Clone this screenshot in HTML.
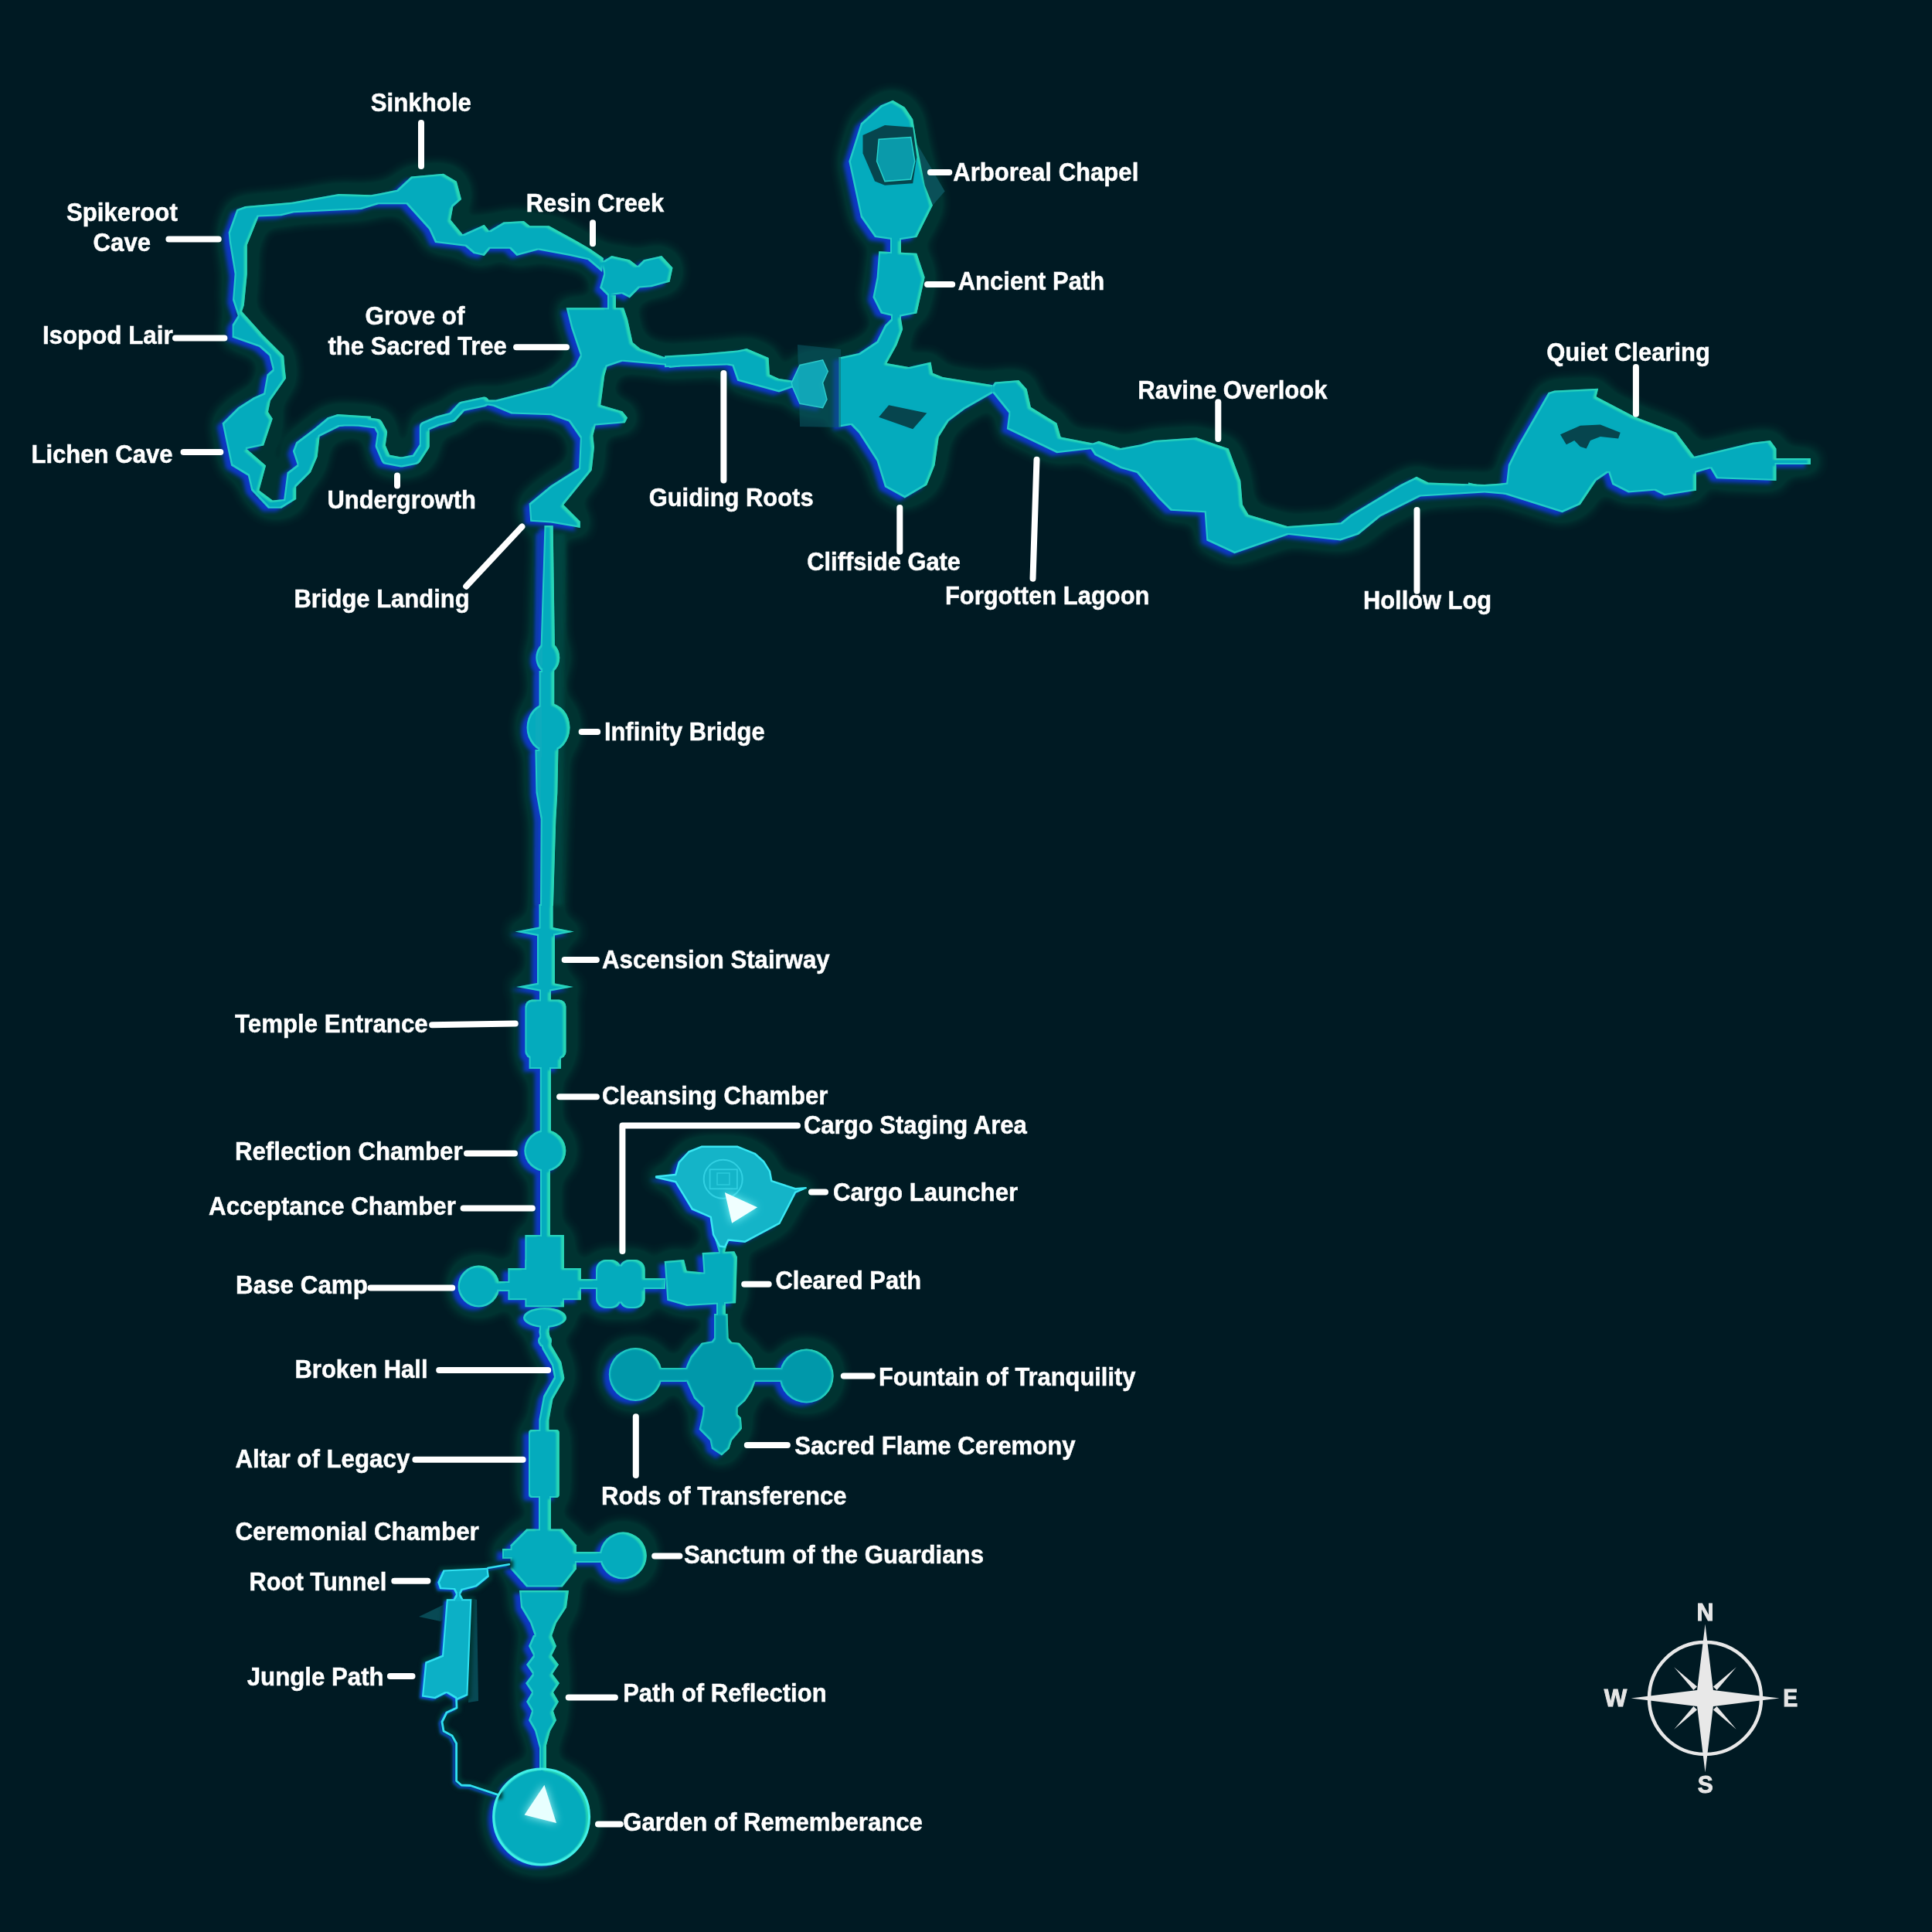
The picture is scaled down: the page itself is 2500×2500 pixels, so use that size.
<!DOCTYPE html>
<html><head><meta charset="utf-8"><style>
html,body{margin:0;padding:0;background:#001a23;width:2500px;height:2500px;overflow:hidden}
svg{display:block}
text{font-family:"Liberation Sans",sans-serif;font-weight:bold;font-size:33.6px;fill:#fff;stroke:#fff;stroke-width:0.5}
</style></head><body>
<svg width="2500" height="2500" viewBox="0 0 2500 2500" xmlns="http://www.w3.org/2000/svg">
<defs>
<filter id="cave" x="0" y="0" width="2500" height="2500" filterUnits="userSpaceOnUse" color-interpolation-filters="sRGB">
  <feMorphology in="SourceAlpha" operator="dilate" radius="4" result="dil0"/>
  <feGaussianBlur in="dil0" stdDeviation="11" result="blr"/>
  <feComponentTransfer in="blr" result="dilb"><feFuncA type="linear" slope="6" intercept="-0.05"/></feComponentTransfer>
  <feFlood flood-color="#003331" result="hc"/>
  <feComposite in="hc" in2="dilb" operator="in" result="halo"/>
  <feOffset in="SourceAlpha" dx="-7" dy="4" result="off"/>
  <feGaussianBlur in="off" stdDeviation="2.8" result="offb"/>
  <feFlood flood-color="#0d38c4" result="bc"/>
  <feComposite in="bc" in2="offb" operator="in" result="blue"/>
  <feFlood flood-color="#22ccc8" result="ec"/>
  <feComposite in="ec" in2="SourceAlpha" operator="in" result="edge"/>
  <feMorphology in="SourceAlpha" operator="erode" radius="1.5" result="er"/>
  <feFlood flood-color="#04abbd" result="fc"/>
  <feComposite in="fc" in2="er" operator="in" result="fill"/>
  <feOffset in="SourceAlpha" dx="-4" dy="2" result="sh"/>
  <feComposite in="SourceAlpha" in2="sh" operator="out" result="band"/>
  <feGaussianBlur in="band" stdDeviation="1" result="bandb"/>
  <feFlood flood-color="#2ad8b4" result="gc"/>
  <feComposite in="gc" in2="bandb" operator="in" result="green"/>
  <feComposite in="green" in2="SourceAlpha" operator="in" result="green2"/>
  <feMerge><feMergeNode in="halo"/><feMergeNode in="blue"/><feMergeNode in="edge"/><feMergeNode in="fill"/><feMergeNode in="green2"/></feMerge>
</filter>
<filter id="lite" x="0" y="0" width="2500" height="2500" filterUnits="userSpaceOnUse" color-interpolation-filters="sRGB">
  <feMorphology in="SourceAlpha" operator="dilate" radius="4" result="dil"/>
  <feGaussianBlur in="dil" stdDeviation="2" result="dilb"/>
  <feFlood flood-color="#003533" result="hc"/>
  <feComposite in="hc" in2="dilb" operator="in" result="halo"/>
  <feOffset in="SourceAlpha" dx="-3" dy="2" result="off"/>
  <feGaussianBlur in="off" stdDeviation="1.5" result="offb"/>
  <feFlood flood-color="#0d48d0" result="bc"/>
  <feComposite in="bc" in2="offb" operator="in" result="blue"/>
  <feFlood flood-color="#30e0f0" result="ec"/>
  <feComposite in="ec" in2="SourceAlpha" operator="in" result="edge"/>
  <feMorphology in="SourceAlpha" operator="erode" radius="1.5" result="er"/>
  <feFlood flood-color="#0cb0c6" result="fc"/>
  <feComposite in="fc" in2="er" operator="in" result="fill"/>
  <feMerge><feMergeNode in="halo"/><feMergeNode in="blue"/><feMergeNode in="edge"/><feMergeNode in="fill"/></feMerge>
</filter>
<filter id="inner2" x="0" y="0" width="2500" height="2500" filterUnits="userSpaceOnUse" color-interpolation-filters="sRGB">
  <feMorphology in="SourceAlpha" operator="erode" radius="2" result="er"/>
  <feGaussianBlur in="er" stdDeviation="0.8" result="erb"/>
  <feFlood flood-color="#0098aa"/>
  <feComposite in2="erb" operator="in"/>
</filter>
<filter id="soft" x="-20%" y="-5%" width="140%" height="110%"><feGaussianBlur stdDeviation="2.5"/></filter>
<filter id="glow" x="-50%" y="-50%" width="200%" height="200%"><feGaussianBlur stdDeviation="6"/></filter>
</defs>
<rect width="2500" height="2500" fill="#001a23"/>
<g filter="url(#cave)">
<polygon points="306.3,271.1 317.1,267.1 377.7,261.7 438.2,251.0 480.0,252.3 490.0,250.4 513.3,245.7 531.9,228.6 573.9,224.8 590.9,234.8 597.1,258.1 586.3,267.5 583.2,284.5 598.7,303.2 626.6,290.7 632.9,298.5 651.5,287.6 677.9,286.1 685.6,292.3 710.5,292.3 744.7,310.9 763.3,321.8 781.0,334.0 779.0,352.0 760.5,336.2 737.0,331.0 696.5,323.4 668.6,331.1 659.3,321.8 634.4,321.8 626.6,331.1 612.7,328.0 601.8,318.7 563.0,314.0 555.2,297.0 525.7,264.3 490.0,264.3 467.8,271.1 380.4,275.2 364.2,279.2 334.6,280.6 319.8,316.9 319.8,354.6 315.8,395.0 313.1,403.0 337.3,430.0 338.3,431.6 360.0,453.3 367.2,460.6 368.7,478.0 370.1,489.6 349.9,518.6 347.0,533.0 352.8,541.7 341.2,576.5 319.4,580.9 344.1,602.6 335.4,634.5 352.8,647.5 367.2,646.1 371.6,611.3 384.6,601.2 378.8,583.8 383.2,572.2 406.4,554.8 423.8,540.3 436.8,535.9 480.0,538.8 480.0,546.1 439.7,551.9 413.6,564.9 410.7,591.0 402.0,611.3 383.2,630.1 383.2,646.1 364.3,657.7 347.0,657.7 325.2,634.5 320.9,615.7 299.1,602.6 287.5,547.5 307.8,527.2 328.1,514.2 341.2,508.4 345.5,484.5 352.8,478.0 348.4,460.6 335.4,449.0 300.6,436.7 300.6,420.0 307.7,408.4 301.0,388.2 303.6,354.6 296.9,314.2 295.6,300.8"/>
<polygon points="778.6,338.8 791.5,331.0 814.8,336.2 825.0,344.0 832.9,336.2 856.2,331.0 870.5,346.6 866.6,364.7 843.3,371.2 827.7,372.5 814.8,385.4 804.5,380.2 786.3,382.8 776.0,372.5 781.2,354.3"/>
<rect x="786.0" y="382.0" width="11.0" height="18.0" rx="0"/>
<polygon points="732.6,398.2 807.1,398.2 812.1,413.1 818.7,442.9 828.6,451.2 861.7,462.8 866.7,461.1 879.9,461.1 879.9,474.4 866.7,476.0 861.7,472.7 805.4,467.7 785.6,474.4 782.3,486.0 777.3,524.0 805.4,532.3 812.1,540.6 808.7,547.2 770.7,550.5 767.4,563.8 769.0,578.7 765.7,608.5 729.3,653.2 750.8,674.7 750.8,683.0 712.7,676.4 686.2,674.7 684.6,651.5 712.7,628.3 749.1,605.2 750.8,567.1 735.9,545.6 712.7,537.3 661.4,535.6 638.2,525.7 620.0,522.4 620.0,517.4 641.5,517.4 712.7,499.2 744.2,472.7 750.8,459.5 739.2,424.7"/>
<polyline points="626.3,520.0 597.7,526.0 585.3,539.7 566.6,544.7 549.3,552.1 549.3,577.0 538.1,594.3 519.4,598.1 499.6,594.3 492.1,577.0 494.6,559.6 488.4,548.4 464.8,545.3 448.6,544.7 430.0,545.9" fill="none" stroke="#000" stroke-width="13" stroke-linejoin="round" stroke-linecap="round"/>
<polygon points="860.0,460.4 907.1,457.7 954.2,453.6 966.3,451.0 994.6,463.1 995.9,484.6 1008.0,490.0 1027.0,492.7 1027.0,501.0 1008.0,507.5 954.2,492.7 947.5,473.8 940.8,472.5 860.0,475.2"/>
<polygon points="1024.2,495.4 1035.0,472.5 1064.6,465.8 1071.3,480.6 1064.6,495.4 1070.0,516.9 1064.6,527.7 1035.0,522.3 1025.5,500.8"/>
<polygon points="1088.0,462.1 1111.3,457.0 1134.6,441.4 1145.0,420.7 1155.3,410.4 1165.6,410.4 1168.2,425.9 1160.5,446.6 1147.5,469.9 1176.0,475.0 1204.5,468.6 1207.0,482.8 1220.0,488.0 1284.7,498.3 1284.7,508.7 1248.4,529.4 1227.7,545.0 1214.8,565.6 1209.6,601.9 1199.3,627.7 1170.8,644.6 1145.0,630.3 1134.6,596.7 1111.3,560.5 1101.0,550.1 1085.4,552.7 1085.4,462.1"/>
<polygon points="1113.9,159.5 1139.8,136.2 1155.3,129.8 1170.8,138.8 1181.2,154.3 1186.3,185.4 1200.0,240.0 1207.0,265.6 1186.3,307.0 1160.5,311.0 1132.0,307.0 1113.9,281.2 1098.3,208.7"/>
<rect x="1152.0" y="309.0" width="14.0" height="18.0" rx="0"/>
<polygon points="1137.2,325.2 1186.3,327.7 1196.7,358.8 1186.3,405.4 1160.5,410.6 1139.8,405.4 1129.4,384.7 1134.6,358.8"/>
<rect x="1153.0" y="408.0" width="13.0" height="16.0" rx="0"/>
<polygon points="1284.7,498.3 1287.3,494.5 1318.3,491.9 1328.7,503.5 1333.9,526.8 1367.5,547.5 1372.7,565.6 1414.0,573.4 1421.8,570.8 1450.0,580.0 1475.9,575.3 1494.0,570.0 1548.3,566.2 1574.2,575.3 1589.8,580.5 1605.3,621.9 1607.9,652.9 1615.6,665.9 1666.0,681.0 1734.7,676.2 1747.6,665.9 1812.3,627.0 1833.0,616.7 1848.5,624.5 1921.0,627.0 1950.0,625.0 1950.0,640.0 1921.0,637.4 1838.2,642.6 1786.4,668.4 1758.0,691.7 1734.7,699.5 1667.4,692.0 1597.5,716.3 1561.3,699.5 1558.7,663.3 1514.7,660.7 1499.2,645.2 1471.0,612.0 1450.0,606.0 1416.6,588.9 1411.5,581.2 1367.5,586.3 1302.8,555.3 1305.4,534.6 1284.7,508.7"/>
<polygon points="1900.0,624.5 1923.3,629.6 1949.2,624.5 1951.8,601.2 1964.7,575.3 2003.5,508.0 2011.3,505.4 2068.2,502.8 2065.6,513.2 2114.8,539.0 2169.2,559.7 2192.4,590.8 2267.5,572.7 2290.8,570.1 2298.5,580.5 2298.5,621.9 2221.0,619.3 2213.2,606.3 2195.0,611.5 2195.0,634.8 2153.6,641.3 2140.7,634.8 2107.0,637.4 2086.3,627.0 2081.2,611.5 2065.6,621.9 2044.9,652.9 2021.6,663.3 1923.3,632.2 1900.0,637.4"/>
<rect x="2298.0" y="593.0" width="45.0" height="8.0" rx="0"/>
<polygon points="704.5,680.0 715.7,680.0 718.0,838.0 699.5,838.0"/>
<ellipse cx="708.8" cy="851.0" rx="15.5" ry="20.0"/>
<rect x="697.6" y="868.0" width="19.7" height="46.0" rx="0"/>
<ellipse cx="709.5" cy="941.5" rx="28.0" ry="32.0"/>
<polygon points="692.4,970.0 722.5,970.0 722.0,994.0 721.4,1026.0 719.4,1060.0 716.0,1172.0 699.0,1172.0 699.7,1060.0 693.5,1026.0"/>
<rect x="697.5" y="1170.0" width="18.1" height="36.0" rx="0"/>
<polygon points="666.5,1205.6 700.0,1199.0 710.0,1199.0 742.8,1205.6 710.0,1212.0 700.0,1212.0"/>
<rect x="695.0" y="1209.0" width="23.0" height="68.0" rx="0"/>
<polygon points="668.0,1277.0 700.0,1271.0 710.0,1271.0 742.0,1277.0 710.0,1283.0 700.0,1283.0"/>
<rect x="698.0" y="1277.0" width="15.0" height="18.0" rx="0"/>
<rect x="679.4" y="1293.6" width="53.1" height="76.4" rx="9"/>
<rect x="684.6" y="1365.0" width="41.4" height="18.0" rx="0"/>
<rect x="698.8" y="1382.0" width="14.2" height="83.0" rx="0"/>
<circle cx="705.3" cy="1489.0" r="27.0"/>
<rect x="699.0" y="1512.0" width="13.0" height="88.0" rx="0"/>
<rect x="679.4" y="1598.0" width="50.5" height="44.0" rx="0"/>
<rect x="657.4" y="1641.0" width="94.5" height="41.2" rx="0"/>
<rect x="679.4" y="1630.0" width="50.5" height="61.3" rx="0"/>
<ellipse cx="705.0" cy="1705.0" rx="28.0" ry="13.0"/>
<rect x="646.0" y="1658.0" width="14.0" height="13.0" rx="0"/>
<circle cx="619.5" cy="1664.5" r="27.0"/>
<polyline points="705.0,1715.0 703.9,1723.3 707.5,1743.2 720.2,1764.9 723.8,1783.0 709.3,1808.4 703.9,1837.4 703.9,1852.0" fill="none" stroke="#000" stroke-width="13" stroke-linejoin="round" stroke-linecap="round"/>
<circle cx="705.0" cy="1735.0" r="9.0"/>
<rect x="684.0" y="1850.0" width="39.8" height="88.0" rx="4"/>
<rect x="697.0" y="1936.0" width="16.0" height="44.0" rx="0"/>
<polygon points="681.2,1978.5 727.7,1978.5 745.9,1999.2 745.9,2030.2 727.7,2053.5 681.2,2053.5 660.5,2030.2 660.5,1999.2"/>
<rect x="650.0" y="2004.0" width="11.0" height="13.0" rx="0"/>
<rect x="744.0" y="2008.0" width="33.0" height="14.0" rx="0"/>
<circle cx="806.3" cy="2013.1" r="30.5"/>
<polygon points="672.0,2058.0 736.0,2058.0 733.0,2080.0 720.0,2100.0 714.0,2117.0 692.0,2117.0 686.0,2100.0 674.0,2080.0"/>
<polygon points="690.0,2116.0 684.0,2130.0 690.0,2142.0 681.0,2154.0 689.0,2166.0 680.0,2178.0 688.0,2190.0 681.0,2202.0 688.0,2214.0 684.0,2226.0 692.0,2240.0 698.0,2262.0 706.0,2262.0 712.0,2240.0 720.0,2226.0 716.0,2214.0 723.0,2202.0 716.0,2190.0 724.0,2178.0 715.0,2166.0 723.0,2154.0 714.0,2142.0 720.0,2130.0 714.0,2116.0"/>
<rect x="698.0" y="2258.0" width="9.0" height="34.0" rx="0"/>
<circle cx="700.6" cy="2351.0" r="62.0"/>
<polygon points="849.1,1522.4 874.2,1520.1 878.7,1504.2 891.3,1490.5 908.3,1483.7 953.9,1483.7 976.7,1492.8 988.1,1503.0 996.0,1515.6 998.3,1528.1 1029.1,1538.3 1042.7,1537.2 1029.1,1542.9 1008.6,1582.8 964.1,1606.7 942.5,1604.4 938.0,1613.5 931.1,1612.4 923.1,1597.6 919.7,1574.8 895.8,1564.5 874.2,1529.2 849.1,1523.5"/>
<polygon points="925.0,1603.0 943.0,1603.0 938.0,1620.0 930.0,1620.0"/>
<polygon points="859.7,1632.0 885.1,1630.1 888.7,1644.6 910.4,1646.4 908.6,1621.1 950.3,1619.3 953.9,1626.5 952.1,1686.3 888.7,1689.9 863.3,1682.7"/>
<rect x="751.0" y="1655.0" width="21.0" height="13.0" rx="0"/>
<rect x="771.0" y="1630.0" width="33.0" height="63.0" rx="13"/>
<rect x="801.0" y="1630.0" width="33.7" height="63.0" rx="13"/>
<rect x="833.0" y="1654.0" width="28.0" height="14.0" rx="0"/>
<rect x="927.0" y="1685.0" width="12.0" height="18.0" rx="0"/>
<polygon points="924.1,1700.0 941.5,1700.0 942.6,1731.3 947.0,1736.7 956.7,1737.8 973.0,1756.3 977.4,1769.3 979.6,1777.0 977.4,1787.8 973.0,1799.8 964.3,1812.8 954.6,1821.5 954.6,1830.2 958.9,1834.6 960.0,1848.7 947.0,1863.9 943.7,1874.8 933.9,1883.5 920.9,1874.8 918.7,1863.9 904.6,1849.8 908.9,1831.3 910.0,1821.5 898.0,1809.6 888.3,1787.8 885.0,1777.0 889.3,1765.0 893.7,1755.2 907.8,1737.8 920.9,1735.6 924.1,1731.3"/>
<circle cx="822.3" cy="1778.5" r="34.5"/>
<rect x="855.0" y="1770.0" width="33.0" height="18.0" rx="0"/>
<circle cx="1043.6" cy="1780.5" r="35.0"/>
<rect x="977.0" y="1770.0" width="33.0" height="18.0" rx="0"/>
</g>
<g style="mix-blend-mode:lighten" filter="url(#soft)">
<polygon points="693,690 703,690 699,1172 692,1172" fill="#0c3cb0"/>
<polygon points="716,690 732,690 728,1172 716,1172" fill="#03453f"/>
</g>
<polygon points="608,2068 617,2070 619,2201 606,2203" fill="#0a5560" opacity="0.8"/>
<polygon points="542,2092 575,2076 580,2090 570,2098" fill="#0a5560" opacity="0.8"/>
<g filter="url(#lite)">
<polygon points="566.2,2047.5 573.5,2031.6 631.4,2028.7 632.9,2040.3 617.0,2053.3 599.6,2057.7 569.1,2056.2"/>
<polyline points="631.4,2029.0 659.0,2024.3" fill="none" stroke="#000" stroke-width="2.5" stroke-linejoin="round" stroke-linecap="round"/>
<polygon points="586.5,2056.0 599.6,2056.0 596.0,2063.0 599.6,2069.5 586.5,2069.5 590.0,2063.0"/>
<polygon points="577.8,2069.3 610.4,2069.3 605.4,2193.9 592.3,2199.7 577.8,2191.0 563.3,2198.3 545.9,2195.4 550.3,2150.4 572.0,2141.7"/>
<polyline points="590.6,2199.0 591.0,2210.0 578.0,2216.0 572.0,2228.0 574.0,2240.0 585.0,2246.0 590.6,2256.0 590.6,2304.5 597.0,2310.0 608.7,2310.5 644.9,2322.7" fill="none" stroke="#000" stroke-width="2.8" stroke-linejoin="round" stroke-linecap="round"/>
</g>
<g filter="url(#inner2)">
<polygon points="924.1,1700.0 941.5,1700.0 942.6,1731.3 947.0,1736.7 956.7,1737.8 973.0,1756.3 977.4,1769.3 979.6,1777.0 977.4,1787.8 973.0,1799.8 964.3,1812.8 954.6,1821.5 954.6,1830.2 958.9,1834.6 960.0,1848.7 947.0,1863.9 943.7,1874.8 933.9,1883.5 920.9,1874.8 918.7,1863.9 904.6,1849.8 908.9,1831.3 910.0,1821.5 898.0,1809.6 888.3,1787.8 885.0,1777.0 889.3,1765.0 893.7,1755.2 907.8,1737.8 920.9,1735.6 924.1,1731.3"/>
<circle cx="822.3" cy="1778.5" r="34.5"/>
<rect x="855.0" y="1770.0" width="33.0" height="18.0" rx="0"/>
<circle cx="1043.6" cy="1780.5" r="35.0"/>
<rect x="977.0" y="1770.0" width="33.0" height="18.0" rx="0"/>
</g>
<polygon points="1137.2,539.8 1150.1,524.2 1199.3,534.6 1181.2,555.3" fill="#06454e" opacity="1"/>
<polygon points="2019.0,562.3 2044.9,550.7 2070.8,549.4 2096.7,559.7 2094.1,567.5 2070.8,564.9 2057.9,570.1 2052.7,580.5 2044.9,577.9 2037.2,570.1 2026.8,575.3" fill="#06454e" opacity="1"/>
<polygon points="1116.5,175.0 1145.0,162.0 1181.2,164.7 1186.3,203.5 1181.2,237.2 1145.0,239.8 1132.0,234.6 1116.5,198.3" fill="#06454e" opacity="1"/>
<polygon points="1186.3,185.4 1222.6,247.5 1207.0,265.6 1196.7,239.8" fill="#0a5058" opacity="1"/>
<polygon points="1032.0,446.0 1088.0,452.0 1088.0,553.0 1035.0,552.0" fill="#0a5a66" opacity="0.55"/>
<polygon points="1024.2,495.4 1035,472.5 1064.6,465.8 1071.3,480.6 1064.6,495.4 1070,516.9 1064.6,527.7 1035,522.3 1025.5,500.8" fill="#12aabb" stroke="#30d0d0" stroke-width="1.5" opacity="0.9"/>
<polygon points="1137.2,180.2 1178.6,177.6 1183.7,208.7 1178.6,232.0 1145.0,234.6 1134.6,208.7" fill="#0a9aaa" stroke="#25d2cc" stroke-width="1.5"/>
<!-- glow triangles -->
<polygon points="849.1,1522.4 874.2,1520.1 878.7,1504.2 891.3,1490.5 908.3,1483.7 953.9,1483.7 976.7,1492.8 988.1,1503.0 996.0,1515.6 998.3,1528.1 1029.1,1538.3 1042.7,1537.2 1029.1,1542.9 1008.6,1582.8 964.1,1606.7 942.5,1604.4 938.0,1613.5 931.1,1612.4 923.1,1597.6 919.7,1574.8 895.8,1564.5 874.2,1529.2 849.1,1523.5" fill="#14b4c8" stroke="#3ae6f2" stroke-width="2.5" stroke-linejoin="round"/>
<circle cx="935.7" cy="1525.8" r="25" fill="none" stroke="#3ad8ea" stroke-width="2" opacity="0.8"/>
<rect x="918.6" y="1513.3" width="35.3" height="25" fill="none" stroke="#3ad8ea" stroke-width="1.8" opacity="0.7"/>
<rect x="928" y="1518" width="16" height="15" fill="none" stroke="#3ad8ea" stroke-width="1.5" opacity="0.6"/>
<polygon points="937.9,1542.9 980.1,1562.3 947.1,1582.8" fill="#8ff" filter="url(#glow)" opacity="0.9"/>
<polygon points="937.9,1542.9 980.1,1562.3 947.1,1582.8" fill="#f0ffff"/>
<circle cx="700.6" cy="2351" r="62" fill="none" stroke="#40f0e8" stroke-width="3"/>
<polygon points="678.6,2348.6 704.4,2309.7 720,2358.9" fill="#bff" filter="url(#glow)" opacity="0.9"/>
<polygon points="678.6,2348.6 704.4,2309.7 720,2358.9" fill="#e8ffff"/>
<g fill="none" stroke="#fff" stroke-width="8" stroke-linecap="round" stroke-linejoin="round">
<polyline points="545.0,159.0 545.0,215.0"/>
<polyline points="218.4,309.5 282.7,309.5"/>
<polyline points="767.0,288.2 767.0,315.3"/>
<polyline points="668.1,449.3 733.0,449.3"/>
<polyline points="227.0,437.4 290.4,437.4"/>
<polyline points="237.5,584.9 285.3,584.9"/>
<polyline points="514.0,615.4 514.0,628.4"/>
<polyline points="603.2,758.7 675.4,681.5"/>
<polyline points="936.4,483.0 936.4,621.5"/>
<polyline points="1203.9,222.9 1228.3,222.9"/>
<polyline points="1200.0,367.9 1232.2,367.9"/>
<polyline points="1164.3,657.0 1164.3,713.7"/>
<polyline points="1341.5,594.8 1336.5,748.7"/>
<polyline points="1576.3,520.3 1576.3,568.0"/>
<polyline points="1833.5,660.0 1833.5,764.8"/>
<polyline points="2116.9,475.0 2116.9,535.8"/>
<polyline points="752.6,947.0 773.2,947.0"/>
<polyline points="730.6,1241.9 771.9,1241.9"/>
<polyline points="559.1,1326.3 666.8,1324.5"/>
<polyline points="724.1,1419.2 771.9,1419.2"/>
<polyline points="805.4,1619.0 805.4,1456.4 1032.0,1456.4"/>
<polyline points="604.0,1492.6 666.0,1492.6"/>
<polyline points="1050.0,1542.4 1068.0,1542.4"/>
<polyline points="599.6,1563.4 688.8,1563.4"/>
<polyline points="479.5,1666.4 585.2,1666.4"/>
<polyline points="963.2,1661.7 994.7,1661.7"/>
<polyline points="568.2,1772.9 709.2,1772.9"/>
<polyline points="1091.8,1780.5 1128.7,1780.5"/>
<polyline points="966.8,1870.0 1018.9,1870.0"/>
<polyline points="537.4,1888.8 676.6,1888.8"/>
<polyline points="822.8,1833.2 822.8,1909.0"/>
<polyline points="847.2,2013.6 879.4,2013.6"/>
<polyline points="510.3,2045.7 553.4,2045.7"/>
<polyline points="504.9,2168.9 533.5,2168.9"/>
<polyline points="735.7,2196.4 795.9,2196.4"/>
<polyline points="774.0,2360.4 802.7,2360.4"/>
</g>
<g opacity="0.999">
<text x="479.7" y="144.0" textLength="130.3" lengthAdjust="spacingAndGlyphs">Sinkhole</text>
<text x="86.0" y="286.0" textLength="143.8" lengthAdjust="spacingAndGlyphs">Spikeroot</text>
<text x="120.6" y="325.0" textLength="74.5" lengthAdjust="spacingAndGlyphs">Cave</text>
<text x="680.7" y="274.3" textLength="178.5" lengthAdjust="spacingAndGlyphs">Resin Creek</text>
<text x="472.6" y="420.3" textLength="128.8" lengthAdjust="spacingAndGlyphs">Grove of</text>
<text x="424.5" y="459.1" textLength="231.3" lengthAdjust="spacingAndGlyphs">the Sacred Tree</text>
<text x="54.9" y="445.0" textLength="168.7" lengthAdjust="spacingAndGlyphs">Isopod Lair</text>
<text x="40.4" y="598.9" textLength="183.2" lengthAdjust="spacingAndGlyphs">Lichen Cave</text>
<text x="423.4" y="657.8" textLength="192.5" lengthAdjust="spacingAndGlyphs">Undergrowth</text>
<text x="380.5" y="786.0" textLength="227.1" lengthAdjust="spacingAndGlyphs">Bridge Landing</text>
<text x="839.7" y="655.0" textLength="212.9" lengthAdjust="spacingAndGlyphs">Guiding Roots</text>
<text x="1233.2" y="234.1" textLength="240.1" lengthAdjust="spacingAndGlyphs">Arboreal Chapel</text>
<text x="1239.7" y="374.8" textLength="189.6" lengthAdjust="spacingAndGlyphs">Ancient Path</text>
<text x="1044.3" y="737.7" textLength="198.7" lengthAdjust="spacingAndGlyphs">Cliffside Gate</text>
<text x="1222.9" y="781.7" textLength="264.6" lengthAdjust="spacingAndGlyphs">Forgotten Lagoon</text>
<text x="1472.3" y="515.8" textLength="245.3" lengthAdjust="spacingAndGlyphs">Ravine Overlook</text>
<text x="1764.0" y="788.1" textLength="166.1" lengthAdjust="spacingAndGlyphs">Hollow Log</text>
<text x="2001.2" y="466.6" textLength="211.7" lengthAdjust="spacingAndGlyphs">Quiet Clearing</text>
<text x="781.9" y="958.2" textLength="207.8" lengthAdjust="spacingAndGlyphs">Infinity Bridge</text>
<text x="779.1" y="1252.8" textLength="294.6" lengthAdjust="spacingAndGlyphs">Ascension Stairway</text>
<text x="304.0" y="1336.4" textLength="249.7" lengthAdjust="spacingAndGlyphs">Temple Entrance</text>
<text x="779.1" y="1428.8" textLength="292.4" lengthAdjust="spacingAndGlyphs">Cleansing Chamber</text>
<text x="1039.9" y="1467.1" textLength="288.9" lengthAdjust="spacingAndGlyphs">Cargo Staging Area</text>
<text x="304.0" y="1500.5" textLength="294.6" lengthAdjust="spacingAndGlyphs">Reflection Chamber</text>
<text x="1077.9" y="1554.1" textLength="239.3" lengthAdjust="spacingAndGlyphs">Cargo Launcher</text>
<text x="270.1" y="1571.7" textLength="319.7" lengthAdjust="spacingAndGlyphs">Acceptance Chamber</text>
<text x="305.1" y="1673.6" textLength="170.8" lengthAdjust="spacingAndGlyphs">Base Camp</text>
<text x="1003.6" y="1668.2" textLength="188.6" lengthAdjust="spacingAndGlyphs">Cleared Path</text>
<text x="381.5" y="1783.0" textLength="172.0" lengthAdjust="spacingAndGlyphs">Broken Hall</text>
<text x="1137.0" y="1793.2" textLength="332.4" lengthAdjust="spacingAndGlyphs">Fountain of Tranquility</text>
<text x="1028.3" y="1882.0" textLength="363.2" lengthAdjust="spacingAndGlyphs">Sacred Flame Ceremony</text>
<text x="304.4" y="1899.0" textLength="225.9" lengthAdjust="spacingAndGlyphs">Altar of Legacy</text>
<text x="778.0" y="1947.2" textLength="317.5" lengthAdjust="spacingAndGlyphs">Rods of Transference</text>
<text x="304.4" y="1993.2" textLength="315.4" lengthAdjust="spacingAndGlyphs">Ceremonial Chamber</text>
<text x="884.9" y="2023.0" textLength="388.1" lengthAdjust="spacingAndGlyphs">Sanctum of the Guardians</text>
<text x="322.4" y="2057.7" textLength="177.9" lengthAdjust="spacingAndGlyphs">Root Tunnel</text>
<text x="319.7" y="2180.8" textLength="177.0" lengthAdjust="spacingAndGlyphs">Jungle Path</text>
<text x="806.2" y="2201.5" textLength="263.4" lengthAdjust="spacingAndGlyphs">Path of Reflection</text>
<text x="806.2" y="2369.2" textLength="387.7" lengthAdjust="spacingAndGlyphs">Garden of Rememberance</text>
</g>
<g fill="#e8e8e8">
<circle cx="2206.5" cy="2197.5" r="72.5" fill="none" stroke="#e8e8e8" stroke-width="4.5"/>
<polygon points="2206.5,2101.5 2216.9,2187.1 2302.5,2197.5 2216.9,2207.9 2206.5,2293.5 2196.1,2207.9 2110.5,2197.5 2196.1,2187.1"/>
<polygon points="2221.6,2187.1 2246.8,2157.2 2216.9,2182.4"/><polygon points="2216.9,2212.6 2246.8,2237.8 2221.6,2207.9"/><polygon points="2191.4,2207.9 2166.2,2237.8 2196.1,2212.6"/><polygon points="2196.1,2182.4 2166.2,2157.2 2191.4,2187.1"/>
<text x="2195.5" y="2096.6" textLength="22" lengthAdjust="spacingAndGlyphs" style="font-size:30.5px;fill:#e6e6e6;stroke:#e6e6e6;stroke-width:0.9">N</text>
<text x="2075.8" y="2208.4" textLength="29.5" lengthAdjust="spacingAndGlyphs" style="font-size:30.5px;fill:#e6e6e6;stroke:#e6e6e6;stroke-width:0.9">W</text>
<text x="2307.2" y="2208.4" textLength="19" lengthAdjust="spacingAndGlyphs" style="font-size:30.5px;fill:#e6e6e6;stroke:#e6e6e6;stroke-width:0.9">E</text>
<text x="2196.8" y="2320.2" textLength="20" lengthAdjust="spacingAndGlyphs" style="font-size:30.5px;fill:#e6e6e6;stroke:#e6e6e6;stroke-width:0.9">S</text>
</g>
</svg>
</body></html>
